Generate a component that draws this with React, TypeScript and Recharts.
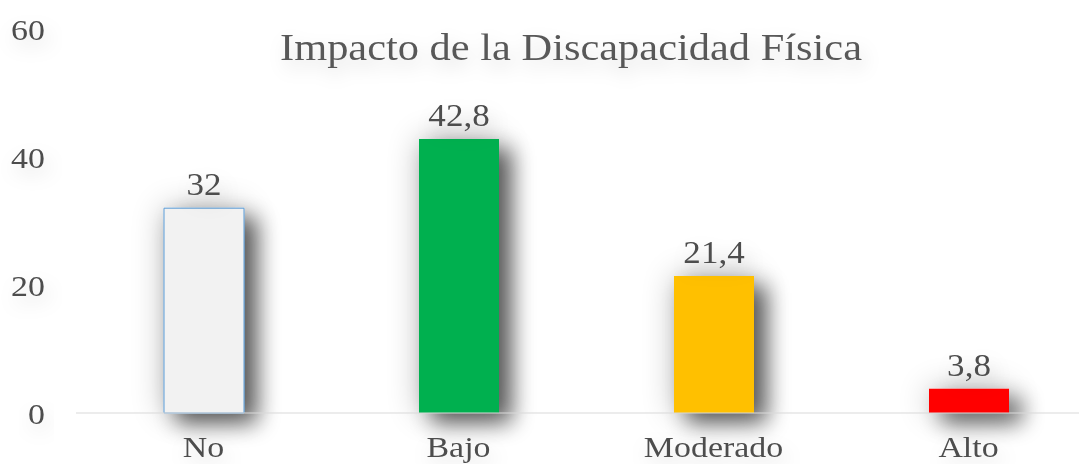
import React from 'react'
import { Bar, BarChart, LabelList, Rectangle, XAxis, YAxis } from 'recharts'

const categories = ['No', 'Bajo', 'Moderado', 'Alto']
const values = [32, 42.8, 21.4, 3.8]
const yTicks = [0, 20, 40, 60]
const barFills = ['#F2F2F2', '#00B050', '#FFC000', '#FF0000']
const barStrokes = ['#5B9BD5', 'none', 'none', 'none']

const data = categories.map((name, i) => ({ name, value: values[i] }))

const font = '"Liberation Serif", "Times New Roman", serif'
const textColor = '#4d4d4d'
// the original text looks a little wide, so stretch it
const stretch = 1.13

const StretchText = ({ x, y, anchor, dy, size, children }: any) => (
    <g transform={`translate(${x},${y}) scale(${stretch},1)`} filter="url(#textShadow)">
        <text x={0} y={0} dy={dy} textAnchor={anchor} fontFamily={font} fontSize={size} fill={textColor}>
            {children}
        </text>
    </g>
)

const YTick = (props: any) => (
    <StretchText x={props.x} y={props.y} anchor="end" dy="0.355em" size={30}>
        {props.payload.value}
    </StretchText>
)

const XTick = (props: any) => (
    <StretchText x={props.x} y={props.y} anchor="middle" dy="0.71em" size={30}>
        {props.payload.value}
    </StretchText>
)

const ValueLabel = (props: any) => (
    <StretchText x={props.x + props.width / 2} y={props.y - 13} anchor="middle" dy={0} size={31}>
        {String(props.value).replace('.', ',')}
    </StretchText>
)

const BarShape = (props: any) => {
    const i = props.index ?? 0
    return (
        <g filter="url(#barShadow)">
            <Rectangle
                {...props}
                fill={barFills[i]}
                stroke={barStrokes[i]}
                strokeWidth={1}
            />
        </g>
    )
}

const App = () => {
    return (
        <div style={{ position: 'absolute', left: 0, top: 0, width: 1079, height: 464, overflow: 'hidden', background: '#fff' }}>
            <svg width={1079} height={464} style={{ position: 'absolute', left: 0, top: 0, pointerEvents: 'none' }}>
                <defs>
                    <filter id="barShadow" filterUnits="userSpaceOnUse" x={0} y={0} width={1100} height={464}>
                        <feGaussianBlur in="SourceAlpha" stdDeviation={16} result="glow" />
                        <feComponentTransfer in="glow" result="glowSoft">
                            <feFuncA type="linear" slope={0.25} />
                        </feComponentTransfer>
                        <feOffset in="SourceAlpha" dx={13} dy={10} result="off" />
                        <feGaussianBlur in="off" stdDeviation={11} result="offBlur" />
                        <feComponentTransfer in="offBlur" result="shadow">
                            <feFuncA type="linear" slope={0.6} />
                        </feComponentTransfer>
                        <feMerge>
                            <feMergeNode in="glowSoft" />
                            <feMergeNode in="shadow" />
                            <feMergeNode in="SourceGraphic" />
                        </feMerge>
                    </filter>
                    <filter id="textShadow" x="-50%" y="-50%" width="200%" height="250%">
                        <feDropShadow dx={3} dy={8} stdDeviation={9} floodColor="#000" floodOpacity={0.14} />
                    </filter>
                </defs>
                <text
                    x={280}
                    y={60}
                    fontFamily={font}
                    fontSize={37}
                    fill="#595959"
                    textLength={582}
                    lengthAdjust="spacingAndGlyphs"
                    filter="url(#textShadow)"
                >
                    Impacto de la Discapacidad Física
                </text>
            </svg>
            <BarChart
                width={1100}
                height={464}
                data={data}
                margin={{ top: 29, right: 4, bottom: 0, left: 0 }}
                style={{ position: 'absolute', left: 0, top: 0 }}
            >
                <XAxis
                    dataKey="name"
                    height={51}
                    axisLine={{ stroke: '#D9D9D9', strokeWidth: 1 }}
                    tickLine={false}
                    tickSize={0}
                    tickMargin={23}
                    interval={0}
                    tick={<XTick />}
                />
                <YAxis
                    width={76}
                    domain={[0, 60]}
                    ticks={yTicks}
                    axisLine={false}
                    tickLine={false}
                    tickSize={0}
                    tickMargin={31}
                    tick={<YTick />}
                />
                <Bar dataKey="value" barSize={80} shape={BarShape} isAnimationActive={false}>
                    <LabelList dataKey="value" content={<ValueLabel />} />
                </Bar>
            </BarChart>
        </div>
    )
}

export default App
